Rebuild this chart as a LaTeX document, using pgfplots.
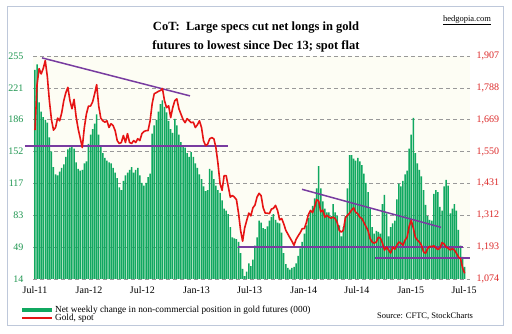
\documentclass[border=0pt]{standalone}
\usepackage{fontspec}
\setmainfont{Liberation Serif}
\usepackage{pgfplots}
\pgfplotsset{compat=1.18}
\usepackage{pgfplotstable}
\definecolor{cotgreen}{RGB}{16,168,96}
\definecolor{goldred}{RGB}{230,20,20}
\definecolor{trendpurple}{RGB}{120,60,160}
\definecolor{lefttick}{RGB}{30,150,80}
\definecolor{righttick}{RGB}{220,40,40}
\definecolor{framecol}{RGB}{190,200,218}
\definecolor{bgcream}{RGB}{253,253,244}

\pgfplotstableread{
w v
0 240
1 246
2 205
3 195
4 189
5 186
6 183
7 167
8 152
9 135
10 127
11 126
12 130
13 134
14 138
15 146
16 154
17 156
18 158
19 155
20 140
21 133
22 131
23 132
24 139
25 141
26 160
27 170
28 176
29 182
30 192
31 170
32 157
33 150
34 145
35 142
36 140
37 139
38 134
39 129
40 123
41 113
42 110
43 120
44 126
45 129
46 132
47 135
48 129
49 132
50 134
51 126
52 118
53 115
54 118
55 124
56 128
57 171
58 180
59 186
60 195
61 203
62 207
63 200
64 194
65 185
66 176
67 172
68 187
69 180
70 170
71 162
72 158
73 156
74 150
75 146
76 151
77 146
78 139
79 134
80 127
81 122
82 114
83 109
84 110
85 133
86 131
87 122
88 115
89 110
90 107
91 99
92 90
93 88
94 84
95 70
96 59
97 58
98 57
99 54
100 42
101 25
102 17
103 22
104 31
105 28
106 35
107 50
108 59
109 77
110 75
111 69
112 68
113 71
114 77
115 81
116 84
117 78
118 75
119 74
120 64
121 42
122 30
123 26
124 24
125 26
126 27
127 31
128 39
129 47
130 54
131 63
132 72
133 80
134 87
135 93
136 101
137 112
138 136
139 112
140 98
141 90
142 86
143 86
144 82
145 95
146 86
147 82
148 72
149 60
150 70
151 82
152 112
153 148
154 148
155 144
156 142
157 145
158 141
159 137
160 128
161 118
162 108
163 90
164 70
165 63
166 66
167 65
168 63
169 95
170 105
171 85
172 60
173 70
174 74
175 77
176 100
177 117
178 114
179 120
180 127
181 131
182 155
183 170
184 188
185 150
186 139
187 132
188 125
189 110
190 94
191 82
192 78
193 77
194 106
195 110
196 108
197 92
198 88
199 114
200 121
201 115
202 85
203 90
204 95
205 88
206 67
207 50
208 38
209 27
}\cotdata

\pgfplotstableread{
w g
0 1630
1 1800
2 1860
3 1840
4 1860
5 1890
6 1830
7 1740
8 1670
9 1630
10 1640
11 1675
12 1665
13 1695
14 1740
15 1770
16 1790
17 1740
18 1710
19 1745
20 1680
21 1635
22 1600
23 1565
24 1640
25 1690
26 1720
27 1720
28 1735
29 1765
30 1800
31 1720
32 1675
33 1665
34 1660
35 1665
36 1640
37 1654
38 1647
39 1628
40 1591
41 1580
42 1584
43 1610
44 1584
45 1617
46 1584
47 1580
48 1591
49 1584
50 1598
51 1591
52 1617
53 1625
54 1628
55 1628
56 1665
57 1729
58 1766
59 1770
60 1775
61 1778
62 1785
63 1740
64 1714
65 1721
66 1677
67 1714
68 1740
69 1747
70 1710
71 1690
72 1670
73 1658
74 1673
75 1665
76 1658
77 1660
78 1640
79 1650
80 1665
81 1640
82 1590
83 1572
84 1578
85 1598
86 1602
87 1598
88 1565
89 1506
90 1431
91 1405
92 1460
93 1460
94 1420
95 1380
96 1386
97 1380
98 1370
99 1320
100 1256
101 1215
102 1265
103 1293
104 1320
105 1310
106 1340
107 1350
108 1380
109 1394
110 1385
111 1340
112 1320
113 1320
114 1318
115 1335
116 1338
117 1349
118 1330
119 1295
120 1300
121 1280
122 1256
123 1242
124 1228
125 1215
126 1200
127 1222
128 1235
129 1247
130 1262
131 1262
132 1285
133 1315
134 1330
135 1322
136 1342
137 1370
138 1365
139 1325
140 1331
141 1305
142 1312
143 1305
144 1301
145 1305
146 1300
147 1285
148 1256
149 1249
150 1256
151 1303
152 1312
153 1320
154 1331
155 1340
156 1323
157 1318
158 1305
159 1300
160 1285
161 1270
162 1255
163 1225
164 1212
165 1208
166 1212
167 1230
168 1227
169 1208
170 1182
171 1193
172 1182
173 1171
174 1193
175 1185
176 1200
177 1212
178 1208
179 1200
180 1219
181 1230
182 1270
183 1293
184 1265
185 1230
186 1219
187 1212
188 1200
189 1175
190 1170
191 1188
192 1196
193 1195
194 1198
195 1190
196 1184
197 1190
198 1210
199 1205
200 1193
201 1189
202 1182
203 1188
204 1182
205 1170
206 1156
207 1150
208 1115
209 1095
}\golddata

\begin{document}
\begin{tikzpicture}
\fill[white] (0pt,0pt) rectangle (512pt,334pt);
\draw[framecol, line width=1pt, fill=white] (7pt,8pt) rectangle (503pt,327pt);

\begin{axis}[
  name=ax1,
  at={(33pt,55pt)}, anchor=south west,
  width=437pt, height=223pt, scale only axis,
  xmin=-0.97, xmax=211.6, ymin=14, ymax=255,
  axis background/.style={fill=bgcream},
  axis line style={draw=none},
  major tick length=0pt,
  ytick={14,48.43,82.86,117.29,151.71,186.14,220.57,255},
  yticklabels={14,49,83,117,152,186,221,255},
  yticklabel style={font=\fontsize{10}{12}\selectfont, text=lefttick, xshift=-6pt},
  xtick={0,26.29,52.29,78.57,104.43,130.71,156.57,182.86,208.71},
  xticklabels={Jul-11,Jan-12,Jul-12,Jan-13,Jul-13,Jan-14,Jul-14,Jan-15,Jul-15},
  xticklabel style={font=\fontsize{10}{12}\selectfont, yshift=-4pt},
  ymajorgrids,
  grid style={gray!80, line width=0.7pt, dash pattern=on 4pt off 3pt},
]
\addplot[ybar, bar width=1.5pt, fill=cotgreen, draw=none] table[x=w, y=v] {\cotdata};
\end{axis}

\begin{axis}[
  at={(ax1.south west)}, anchor=south west,
  width=437pt, height=223pt, scale only axis,
  xmin=-0.97, xmax=211.6, ymin=1074, ymax=1907,
  clip=false,
  axis x line=none,
  axis y line*=right,
  axis line style={draw=none},
  major tick length=0pt,
  ytick={1074,1193,1312,1431,1550,1669,1788,1907},
  yticklabels={{1,074},{1,193},{1,312},{1,431},{1,550},{1,669},{1,788},{1,907}},
  yticklabel style={font=\fontsize{10}{12}\selectfont, text=righttick, xshift=3pt},
  legend style={at={(axis description cs:-0.03,-0.114)}, anchor=north west,
    draw=none, fill=none, font=\fontsize{9.3}{10}\selectfont,
    row sep=-2pt, inner sep=0pt, nodes={inner sep=1pt}},
  legend cell align=left,
]
\addplot[trendpurple, line width=1.5pt, forget plot] coordinates {(3.4,1900) (75.4,1758)};
\addplot[trendpurple, line width=1.5pt, forget plot] coordinates {(-4.9,1570) (93.9,1570)};
\addplot[trendpurple, line width=1.5pt, forget plot] coordinates {(98.8,1193) (208.2,1193)};
\addplot[trendpurple, line width=1.5pt, forget plot] coordinates {(165.4,1152) (211.6,1152)};
\addplot[trendpurple, line width=1.5pt, forget plot] coordinates {(129.9,1409) (197.5,1267)};
\addlegendimage{legend image code/.code={\draw[line width=4pt, cotgreen] (0pt,0pt) -- (30pt,0pt);}}
\addlegendentry{Net weekly change in non-commercial position in gold futures (000)}
\addplot[goldred, line width=1.6pt, line join=round,
  legend image code/.code={\draw[line width=2pt, goldred] (0pt,0pt) -- (30pt,0pt);}]
  table[x=w, y=g] {\golddata};
\addlegendentry{Gold, spot}
\end{axis}

\node[font=\bfseries\fontsize{12.5}{14}\selectfont] at (256pt,306pt) {CoT:\ \ Large specs cut net longs in gold};
\node[font=\bfseries\fontsize{12.5}{14}\selectfont] at (256pt,288pt) {futures to lowest since Dec 13; spot flat};
\node[font=\fontsize{8.5}{10}\selectfont] at (467pt,314pt) {\underline{hedgopia.com}};
\node[font=\fontsize{8.5}{10}\selectfont] at (425pt,18pt) {Source: CFTC, StockCharts};
\pgfresetboundingbox
\path[use as bounding box] (0pt,0pt) rectangle (512pt,334pt);
\end{tikzpicture}
\end{document}
